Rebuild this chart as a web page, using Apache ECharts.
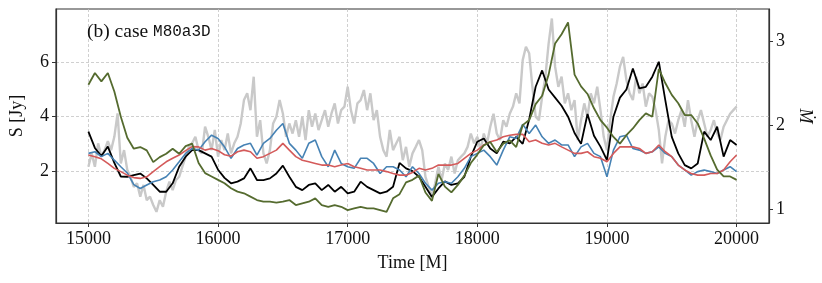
<!DOCTYPE html>
<html>
<head>
<meta charset="utf-8">
<script src="https://cdn.jsdelivr.net/npm/echarts@6/dist/echarts.min.js"></script>
<style>
html,body{margin:0;padding:0;background:#fff;}
#chart{width:822px;height:283px;}
</style>
</head>
<body>
<div id="chart"></div>
<script>
// ---- data ----
const tStart = 15000;
const grayStep = 25;
const lineStep = 50;
const xTicks = [15000, 16000, 17000, 18000, 19000, 20000];
const leftTicks = [2, 4, 6];
const rightTicks = [1, 2, 3];

const grayS = [
2.16,2.65,2.16,3.02,2.53,2.77,3.1,2.77,3.26,4.12,2.28,2.77,2.04,1.79,1.42,1.55,1.06,1.49,0.93,1.06,
0.75,0.50,0.93,0.69,1.24,1.61,1.30,1.67,1.79,2.16,2.53,2.89,3.02,3.26,2.77,2.65,3.63,3.26,2.77,3.51,
2.53,3.14,2.77,3.38,2.65,3.02,3.26,3.75,4.61,4.86,4.24,5.47,3.26,3.87,2.65,2.28,2.77,3.75,4.00,4.61,
4.12,3.26,3.75,3.38,3.87,3.26,4.0,3.14,4.24,3.63,4.12,3.51,3.87,4.24,3.63,4.12,4.49,3.75,4.24,4.37,
5.10,4.24,3.75,4.49,4.61,4.98,4.24,4.86,3.87,4.24,3.26,2.77,2.53,3.51,2.77,3.02,3.26,2.40,2.89,2.16,
2.65,2.89,3.14,2.77,1.79,1.42,1.06,1.55,2.16,1.67,2.28,2.04,2.53,1.91,2.40,2.53,2.65,2.89,3.38,3.02,
3.26,2.77,3.38,3.02,3.63,4.11,3.38,3.14,3.87,3.63,4.11,4.37,4.86,4.49,6.08,6.57,6.33,5.10,4.00,3.87,
4.73,5.47,6.69,7.61,5.84,5.10,5.47,4.49,4.86,4.24,4.61,3.14,3.87,4.49,4.00,4.86,4.49,5.10,4.24,3.26,
2.77,3.87,4.73,5.22,5.84,6.20,5.35,4.86,4.61,5.47,4.86,5.22,4.37,4.86,4.73,4.24,3.51,2.28,3.26,3.87,
3.75,3.38,3.87,4.24,3.63,4.61,3.87,3.26,3.87,4.24,3.75,3.26,3.51,3.87,3.38,3.14,3.63,3.87,4.11,4.24,
4.37
];

const blackS = [
3.45,2.85,2.55,2.9,2.3,1.8,1.79,1.85,1.91,1.73,1.49,1.24,1.24,1.55,2.16,2.53,2.77,2.77,2.65,2.53,
2.05,1.75,1.55,1.61,1.73,2.10,1.67,1.67,1.73,1.91,2.2,1.79,1.42,1.3,1.49,1.55,1.30,1.49,1.24,1.42,
1.18,1.24,1.61,1.42,1.30,1.18,1.24,1.42,2.3,2.1,2.0,1.79,1.42,1.05,1.36,1.62,1.49,1.55,1.79,2.53,
3.08,3.20,2.83,2.65,3.08,3.02,3.26,3.0,3.9,5.1,5.7,5.0,4.7,4.4,4.0,3.4,3.0,4.1,3.3,2.9,
2.4,4.0,4.7,5.0,5.77,5.04,5.10,5.47,6.02,4.61,3.26,2.65,2.22,2.10,2.28,3.45,3.14,3.63,2.53,3.14,
2.96
];

const blueS = [
2.65,2.71,2.53,2.65,2.40,2.16,1.93,1.5,1.36,1.49,1.61,1.67,1.79,2.04,2.34,2.65,2.83,2.77,3.08,3.32,
3.20,2.89,2.47,2.83,2.96,3.02,2.59,3.02,3.20,3.5,3.75,3.02,2.77,2.47,3.02,3.14,2.53,2.16,2.77,2.28,
2.16,2.10,2.47,2.47,2.28,1.91,2.16,2.16,2.04,1.79,2.16,1.91,1.55,1.30,1.55,1.61,1.55,1.79,2.10,2.53,
2.65,2.77,2.53,2.22,2.77,3.26,3.20,3.72,3.38,3.69,3.26,3.02,3.14,2.96,2.96,2.53,2.89,3.02,2.65,2.53,
1.79,2.77,3.26,3.32,2.83,2.77,2.65,2.71,2.89,2.65,2.53,2.22,2.04,1.85,1.98,2.04,1.98,1.91,2.04,2.16,
1.98
];

const redS = [
2.59,2.53,2.45,2.28,2.10,1.98,1.85,1.76,1.73,1.79,1.98,2.16,2.34,2.47,2.59,2.75,2.9,2.89,2.77,2.83,
2.75,2.6,2.55,2.71,2.77,2.71,2.47,2.53,2.65,2.77,3.02,2.77,2.53,2.40,2.34,2.28,2.22,2.22,2.16,2.22,
2.28,2.16,2.10,2.04,2.04,2.04,1.98,1.91,1.85,1.85,1.95,2.10,2.04,2.10,2.22,2.22,2.22,2.28,2.47,2.65,
2.77,2.96,3.08,3.14,3.26,3.32,3.35,3.35,3.08,3.14,3.02,2.96,3.02,2.89,2.77,2.65,2.65,2.71,2.53,2.47,
2.34,2.65,2.89,2.89,2.89,2.83,2.65,2.71,2.96,2.71,2.53,2.22,2.04,1.91,1.85,1.85,1.91,1.91,2.04,2.34,
2.59
];

const greenMdot = [
2.48,2.62,2.52,2.62,2.40,2.10,1.85,1.72,1.74,1.70,1.56,1.62,1.66,1.72,1.66,1.75,1.78,1.55,1.43,1.39,
1.35,1.31,1.25,1.21,1.19,1.15,1.11,1.09,1.09,1.08,1.09,1.11,1.05,1.07,1.09,1.13,1.05,1.03,1.05,1.03,
0.99,1.01,1.03,1.01,1.01,0.99,0.97,1.13,1.18,1.32,1.35,1.40,1.20,1.10,1.42,1.27,1.20,1.29,1.40,1.55,
1.65,1.76,1.80,1.68,1.78,1.82,1.74,2.0,2.06,2.25,2.35,2.6,2.97,3.08,3.22,2.6,2.46,2.37,2.2,2.06,
1.97,1.86,1.78,1.88,1.96,2.06,2.14,2.10,2.67,2.50,2.36,2.26,2.12,2.12,2.02,1.84,1.64,1.47,1.39,1.39,
1.35
];

function pairs(vals, step) {
  return vals.map((v, i) => [tStart + i * step, v]);
}

const serif = '"Liberation Serif", "DejaVu Serif", serif';
const chart = echarts.init(document.getElementById('chart'), null, {renderer: 'canvas'});
const axisCol = '#333';
const gridLine = {show: true, lineStyle: {color: '#c4c4c4', type: [3, 2], width: 0.8}};

chart.setOption({
  animation: false,
  backgroundColor: '#fff',
  title: {
    text: '{a|(b) case }{b|M80a3D}',
    left: 82, top: 17,
    textStyle: {
      fontWeight: 'normal',
      rich: {
        a: {fontFamily: serif, fontSize: 19.5, fontWeight: 'normal', color: '#111'},
        b: {fontFamily: '"Liberation Mono", "DejaVu Sans Mono", monospace', fontSize: 16, fontWeight: 'normal', color: '#111'}
      }
    }
  },
  grid: {left: 52, top: 9, width: 720, height: 214, show: true, borderColor: axisCol, borderWidth: 1.2, backgroundColor: 'transparent'},
  xAxis: {
    type: 'value', min: 14750, max: 20250,
    name: 'Time [M]', nameLocation: 'middle', nameGap: 31,
    nameTextStyle: {fontFamily: serif, fontSize: 18, color: '#111'},
    axisLine: {show: true, onZero: false, lineStyle: {color: axisCol, width: 1.2}},
    axisTick: {show: true, length: 4, customValues: xTicks, lineStyle: {color: axisCol}},
    axisLabel: {customValues: xTicks, fontFamily: serif, fontSize: 18, color: '#111', margin: 7, formatter: v => String(v)},
    splitLine: gridLine
  },
  yAxis: [
    {
      type: 'value', min: 0.09, max: 7.96, position: 'left',
      name: 'S [Jy]', nameLocation: 'middle', nameGap: 30, nameRotate: 90,
      nameTextStyle: {fontFamily: serif, fontSize: 18, color: '#111'},
      axisLine: {show: true, lineStyle: {color: axisCol, width: 1.2}},
      axisTick: {show: true, length: 4, customValues: leftTicks, lineStyle: {color: axisCol}},
      axisLabel: {customValues: leftTicks, fontFamily: serif, fontSize: 18, color: '#111', margin: 7, formatter: v => String(v)},
      splitLine: gridLine
    },
    {
      type: 'value', min: 0.837, max: 3.38, position: 'right',
      name: 'Ṁ', nameLocation: 'middle', nameGap: 27, nameRotate: -90,
      nameTextStyle: {fontFamily: serif, fontSize: 18, fontStyle: 'italic', color: '#111'},
      axisLine: {show: true, lineStyle: {color: axisCol, width: 1.2}},
      axisTick: {show: true, length: 4, customValues: rightTicks, lineStyle: {color: axisCol}},
      axisLabel: {customValues: rightTicks, fontFamily: serif, fontSize: 18, color: '#111', margin: 7, formatter: v => String(v)},
      splitLine: {show: false}
    }
  ],
  series: [
    {type: 'line', name: 'gray', data: pairs(grayS, grayStep), yAxisIndex: 0, showSymbol: false, lineStyle: {color: '#c9c9c9', width: 2.4}, z: 1},
    {type: 'line', name: 'black', data: pairs(blackS, lineStep), yAxisIndex: 0, showSymbol: false, lineStyle: {color: '#000', width: 1.8}, z: 2},
    {type: 'line', name: 'blue', data: pairs(blueS, lineStep), yAxisIndex: 0, showSymbol: false, lineStyle: {color: '#4682b4', width: 1.6}, z: 3},
    {type: 'line', name: 'red', data: pairs(redS, lineStep), yAxisIndex: 0, showSymbol: false, lineStyle: {color: '#d45a5a', width: 1.6}, z: 4},
    {type: 'line', name: 'green', data: pairs(greenMdot, lineStep), yAxisIndex: 1, showSymbol: false, lineStyle: {color: '#556b2f', width: 1.8}, z: 5}
  ]
});
</script>
</body>
</html>
